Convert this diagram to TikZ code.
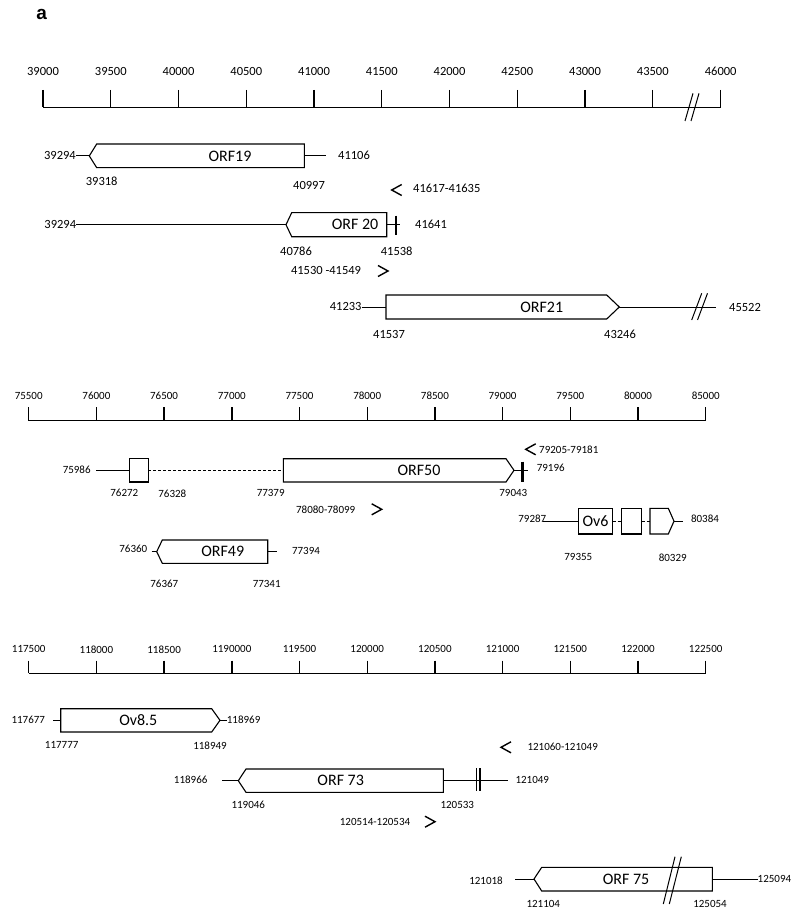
\documentclass[tikz,border=0pt]{standalone}
\usepackage{fontspec}
\setmainfont{Carlito}
\newfontfamily\arialb{Liberation Sans}
\begin{document}
\begin{tikzpicture}[x=1pt,y=-1pt,
  axln/.style={line width=1.4pt},
  gene/.style={draw,line width=1.1pt,fill=white},
  thin/.style={line width=1.0pt},
  barln/.style={line width=2.4pt},
  brk/.style={line width=1.0pt},
  prim/.style={line width=1.4pt},
  numL/.style={inner sep=0pt,font=\fontsize{12.5}{14}\selectfont},
  numS/.style={inner sep=0pt,font=\fontsize{11}{13}\selectfont},
  orfL/.style={inner sep=0pt,font=\fontsize{16}{18}\selectfont}]
\useasboundingbox (0,0) rectangle (800,917);
\node[inner sep=0pt,font=\arialb\bfseries\fontsize{19}{21}\selectfont] (lbla) at (41.7,14.3) {a};

% ---------- top axis ----------
\draw[axln] (43,107.3) -- (720.7,107.3);
\foreach \i/\l in {0/39000,1/39500,2/40000,3/40500,4/41000,5/41500,6/42000,7/42500,8/43000,9/43500}{
  \node[numL] (ta\i) at ({43+\i*67.75},71.7) {\l};
  \draw[axln] ({43+\i*67.75},90) -- ({43+\i*67.75},107.3);
}
\node[numL] (ta10) at (720.7,71.7) {46000};
\draw[axln] (720.7,90) -- (720.7,107.3);
\draw[brk] (685,121) -- (693,93.3);
\draw[brk] (691,121) -- (699,93.3);

% ORF19
\draw[thin] (76,155.9) -- (89.3,155.9);
\draw[thin] (304.3,155.9) -- (325.7,155.9);
\draw[gene] (96.7,144) -- (304.3,144) -- (304.3,167.7) -- (96.7,167.7) -- (89.3,155.9) -- cycle;
\node[numL,anchor=east] (n1) at (76,155.5) {39294};
\node[orfL] (orf19) at (230,155.9) {ORF19};
\node[numL] (n2) at (354,155.5) {41106};
\node[numL] (n3) at (101.7,181.7) {39318};
\node[numL] (n4) at (309,185) {40997};
\draw[prim] (401.7,184.5) -- (391.7,190) -- (401.7,195.5);
\node[numL,anchor=west] (n5) at (413,188) {41617-41635};

% ORF20
\draw[thin] (76.3,224.7) -- (286,224.7);
\draw[gene] (291.7,212.7) -- (386.7,212.7) -- (386.7,236.7) -- (291.7,236.7) -- (286,224.7) -- cycle;
\node[orfL] (orf20) at (355,224.7) {ORF 20};
\draw[thin] (386.7,224.7) -- (400,224.7);
\draw[barln] (396,215.7) -- (396,235);
\node[numL,anchor=east] (n6) at (76.3,224.3) {39294};
\node[numL] (n7) at (431,224.7) {41641};
\node[numL] (n8) at (296,251) {40786};
\node[numL] (n9) at (396.7,251) {41538};
\node[numL] (n10) at (326,270) {41530 -41549};
\draw[prim] (378,265.5) -- (388,271) -- (378,276.5);

% ORF21
\draw[thin] (361.7,307) -- (386,307);
\draw[thin] (619.3,307) -- (716,307);
\draw[gene] (386,295) -- (606.7,295) -- (619.3,307) -- (606.7,319) -- (386,319) -- cycle;
\draw[brk] (691.7,320) -- (701.7,293.3);
\draw[brk] (697.5,320) -- (707.5,293.3);
\node[numL,anchor=east] (n11) at (361.7,306.5) {41233};
\node[numL] (n12) at (745,307) {45522};
\node[orfL] (orf21) at (541.7,307) {ORF21};
\node[numL] (n13) at (389,334) {41537};
\node[numL] (n14) at (620,334) {43246};

% ---------- middle axis ----------
\draw[axln] (28.7,420.7) -- (705.7,420.7);
\foreach \i/\l in {0/75500,1/76000,2/76500,3/77000,4/77500,5/78000,6/78500,7/79000,8/79500,9/80000,10/85000}{
  \node[numS] (tb\i) at ({28.7+\i*67.7},396) {\l};
  \draw[axln] ({28.7+\i*67.7},407.3) -- ({28.7+\i*67.7},420.7);
}

% ORF50
\node[numS] (m1) at (76.7,470) {75986};
\draw[thin] (96,470.3) -- (129.3,470.3);
\draw[gene] (129.3,458.7) rectangle (148.3,482);
\draw[thin,dashed,dash pattern=on 3pt off 2pt] (148.3,470.3) -- (283.3,470.3);
\draw[gene] (283.3,458.7) -- (506,458.7) -- (514,470.3) -- (506,482) -- (283.3,482) -- cycle;
\node[orfL] (orf50) at (419,470.3) {ORF50};
\draw[thin] (514,470.3) -- (528.3,470.3);
\draw[barln] (522.3,461.7) -- (522.3,481.7);
\node[numS] (m2) at (550.7,467.7) {79196};
\draw[prim] (535.7,443.8) -- (525.7,449.3) -- (535.7,454.8);
\node[numS,anchor=west] (m3) at (539,449.3) {79205-79181};
\node[numS] (m4) at (124.3,493.3) {76272};
\node[numS] (m5) at (172.3,493.3) {76328};
\node[numS] (m6) at (270.7,493.3) {77379};
\node[numS] (m7) at (513.3,493.3) {79043};
\node[numS] (m8) at (325.7,509.3) {78080-78099};
\draw[prim] (371.7,503.8) -- (381.7,509.3) -- (371.7,514.8);

% Ov6
\draw[thin] (543.3,521.5) -- (578.3,521.5);
\draw[gene] (578.3,508.3) rectangle (612.7,534);
\node[orfL] (ov6) at (595.5,521.5) {Ov6};
\draw[thin,dashed,dash pattern=on 3pt off 2pt] (612.7,521.5) -- (621.7,521.5);
\draw[gene] (621.7,508.3) rectangle (641.7,534);
\draw[thin,dashed,dash pattern=on 3pt off 2pt] (641.7,521.5) -- (650,521.5);
\draw[gene] (650,508.3) -- (668.3,508.3) -- (674,521.2) -- (668.3,534) -- (650,534) -- cycle;
\draw[thin] (674,521.2) -- (683.3,521.2);
\node[numS] (m9) at (532.3,519) {79287};
\node[numS] (m10) at (705,519) {80384};
\node[numS] (m11) at (578.3,557.3) {79355};
\node[numS] (m12) at (672.7,557.3) {80329};

% ORF49
\draw[thin] (151.7,551.7) -- (156.7,551.7);
\draw[thin] (267.7,551.7) -- (277.3,551.7);
\draw[gene] (162.3,540) -- (267.7,540) -- (267.7,563.3) -- (162.3,563.3) -- (156.7,551.7) -- cycle;
\node[orfL] (orf49) at (222.7,551.7) {ORF49};
\node[numS] (m13) at (133.3,549.3) {76360};
\node[numS] (m14) at (306,551) {77394};
\node[numS] (m15) at (164.3,584.3) {76367};
\node[numS] (m16) at (266.7,584.3) {77341};

% ---------- bottom axis ----------
\draw[axln] (28.7,673.3) -- (705.7,673.3);
\foreach \i/\l in {0/117500,1/118000,2/118500,3/1190000,4/119500,5/120000,6/120500,7/121000,8/121500,9/122000,10/122500}{
  \node[numS] (tc\i) at ({28.7+\i*67.7},649.3) {\l};
  \draw[axln] ({28.7+\i*67.7},660.7) -- ({28.7+\i*67.7},673.3);
}

% Ov8.5
\draw[thin] (53.3,720.3) -- (60.7,720.3);
\draw[thin] (220,720.3) -- (226.7,720.3);
\draw[gene] (60.7,708.7) -- (211.7,708.7) -- (220,720.3) -- (211.7,732) -- (60.7,732) -- cycle;
\node[orfL] (ov85) at (138.3,720.3) {Ov8.5};
\node[numS] (b1) at (28.3,720) {117677};
\node[numS,anchor=west] (b2) at (226.7,720) {118969};
\node[numS] (b3) at (61.7,745.3) {117777};
\node[numS] (b4) at (210,745.3) {118949};

% ORF73
\draw[thin] (222,780.7) -- (238.3,780.7);
\draw[thin] (443.3,780.7) -- (508.3,780.7);
\draw[gene] (246,769) -- (443.3,769) -- (443.3,792.3) -- (246,792.3) -- (238.3,780.7) -- cycle;
\draw[line width=1.8pt] (476.5,768.3) -- (476.5,790.7);
\draw[line width=1.8pt] (480.3,768.3) -- (480.3,790.7);
\node[orfL] (orf73) at (340.7,780.7) {ORF 73};
\node[numS] (b5) at (190.7,780) {118966};
\node[numS] (b6) at (532.3,780) {121049};
\node[numS] (b7) at (248.3,805) {119046};
\node[numS] (b8) at (457.3,805) {120533};
\node[numS] (b9) at (375,821.7) {120514-120534};
\draw[prim] (425,816.2) -- (435,821.7) -- (425,827.2);
\draw[prim] (511,741.8) -- (501,747.3) -- (511,752.8);
\node[numS] (b10) at (562.7,747.3) {121060-121049};

% ORF75
\draw[thin] (515,879) -- (534,879);
\draw[thin] (712.3,879) -- (757.5,879);
\draw[gene] (541.7,867.3) -- (712.3,867.3) -- (712.3,891) -- (541.7,891) -- (534,879) -- cycle;
\draw[brk] (663.3,904) -- (675,856.7);
\draw[brk] (669.3,904) -- (681.3,856.7);
\node[orfL] (orf75) at (626,879) {ORF 75};
\node[numS] (b11) at (486,880.7) {121018};
\node[numS,anchor=west] (b12) at (757.5,879) {125094};
\node[numS] (b13) at (543.3,904) {121104};
\node[numS] (b14) at (710,904) {125054};
\end{tikzpicture}
\end{document}
